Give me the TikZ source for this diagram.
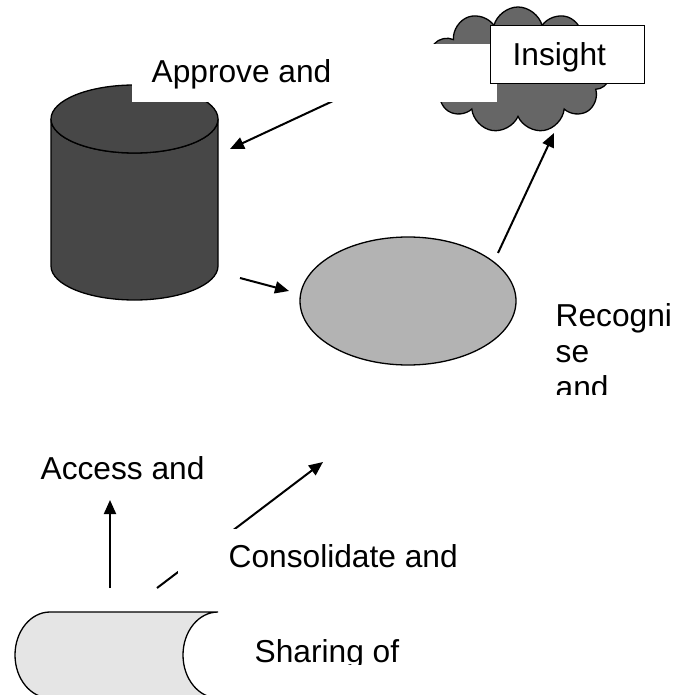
\documentclass[tikz,border=0pt]{standalone}
\usepackage{fontspec}
\setmainfont{Liberation Sans}
\usetikzlibrary{shapes.geometric,shapes.symbols,arrows.meta}
\definecolor{drumgray}{HTML}{474747}
\definecolor{cloudgray}{HTML}{666666}
\definecolor{ovalgray}{HTML}{B3B3B3}
\definecolor{tapegray}{HTML}{E5E5E5}

\begin{document}
\begin{tikzpicture}[x=1pt, y=-1pt, line width=1.3pt,
    lbl/.style={anchor=base west, inner sep=0pt, font=\fontsize{31.7}{36.4}\selectfont},
    mask/.style={fill=white, draw=none, inner sep=0pt, anchor=north west},
    arr/.style={-{Triangle[length=14pt, width=12pt]}, line width=2pt}]
    \useasboundingbox (0,0) rectangle (675,695);
    % stored data drum
    \filldraw[fill=drumgray] (51,119) -- (51,266) arc[start angle=180, end angle=0, x radius=83.5, y radius=34]
        -- (218,119) arc[start angle=0, end angle=180, x radius=83.5, y radius=34] -- cycle;
    \filldraw[fill=drumgray] (134.5,119) ellipse[x radius=83.5, y radius=34];
    % insight cloud and process oval
    \node[cloud, cloud puffs=11, aspect=1.45, draw, fill=cloudgray, minimum width=184pt, minimum height=126pt, inner sep=0pt] (cloud) at (518,70) {};
    \node[ellipse, draw, fill=ovalgray, minimum width=216pt, minimum height=128pt, inner sep=0pt] (oval) at (408,301) {};
    % tape
    \filldraw[fill=tapegray] (218,612) -- (50,612) arc[start angle=270, end angle=90, x radius=35, y radius=43]
        -- (218,698) arc[start angle=90, end angle=270, x radius=35, y radius=43] -- cycle;
    % arrow ends
    \foreach \n/\p in {a1/{380,79.1}, a2/{230,149}, b1/{240,278}, b2/{289,291}, c1/{498,253}, c2/{554,133},
        d1/{110,588}, d2/{110,500}, e1/{157,588}, e2/{323,462}} {
            \coordinate (\n) at (\p);
        }
    \foreach \i\j in {a1/a2, b1/b2, c1/c2, d1/d2, e1/e2} {
            \draw[arr] (\i) -- (\j);
        }
    % text boxes
    \node[mask, minimum width=365pt, minimum height=58pt] (approvebox) at (131,43) {};
    \node[lbl] (approve) at (151,83) {Approve and};
    \node[mask, draw=black, minimum width=154pt, minimum height=58pt] (insightbox) at (490,25) {};
    \node[lbl] (insight) at (512,66) {Insight};
    \node[mask, minimum width=293pt, minimum height=67pt] (consolbox) at (177,528) {};
    \node[lbl] (consol) at (228,567) {Consolidate and};
    \node[lbl] (access) at (40,479) {Access and};
    \begin{scope}
        \clip (540,285) rectangle (675,394);
        \node[lbl] (recog1) at (555,326) {Recogni};
        \node[lbl] (recog2) at (555,362) {se};
        \node[lbl] (recog3) at (555,398) {and};
    \end{scope}
    \begin{scope}
        \clip (240,620) rectangle (460,664);
        \node[lbl] (sharing) at (254,662) {Sharing of};
    \end{scope}
\end{tikzpicture}
\end{document}
